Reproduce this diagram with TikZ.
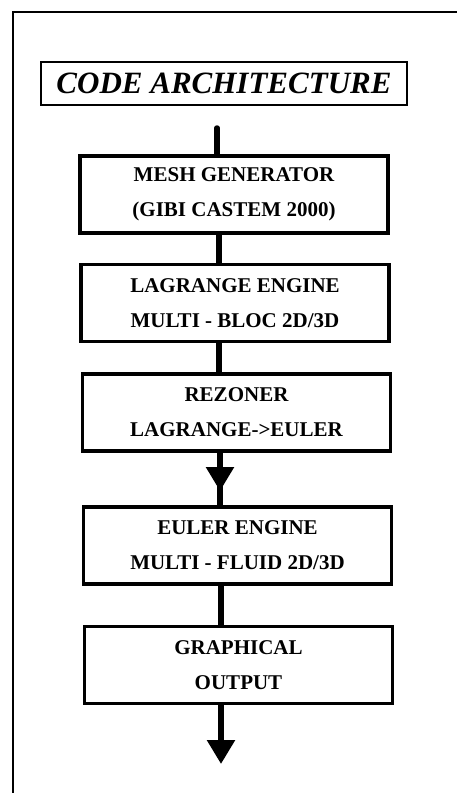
\documentclass[tikz,border=0pt]{standalone}
\usepackage{fontspec}
\setmainfont{Liberation Serif}
\usetikzlibrary{arrows.meta}
\begin{document}
\begin{tikzpicture}[x=1pt,y=-1pt,
  frame/.style={line width=2pt},
  titlebox/.style={draw,line width=2pt,minimum width=366pt,minimum height=43pt,inner sep=0pt,
    font=\bfseries\itshape\fontsize{31}{31}\selectfont},
  stepbox/.style={draw,line width=3.5pt,minimum width=308pt,minimum height=77pt,inner sep=0pt,
    align=center,font=\bfseries\fontsize{21}{35}\selectfont},
  conn/.style={line width=5.5pt},
  tip/.style={-{Triangle[width=27pt,length=24pt]}}]
\useasboundingbox (0,0) rectangle (457,793);
% outer frame (top and left edges)
\draw[frame] (457,12) -- (13,12) -- (13,793);
\node[titlebox] (title) at (224,83.5) {CODE ARCHITECTURE};
\coordinate (axis) at (219,0);
\coordinate (start) at (217,128);
\node[stepbox] (b1) at (234,194.5) {MESH GENERATOR\\(GIBI CASTEM 2000)};
\node[stepbox] (b2) at (235,303) {LAGRANGE ENGINE\\MULTI - BLOC 2D/3D};
\node[stepbox] (b3) at (236.5,412.5) {REZONER\\LAGRANGE->EULER};
\node[stepbox] (b4) at (237.5,545.5) {EULER ENGINE\\MULTI - FLUID 2D/3D};
\node[stepbox] (b5) at (238.5,665) {GRAPHICAL\\OUTPUT};
\coordinate (tip1) at (220,491);
\coordinate (tip2) at (221,764);
\draw[conn,line cap=round] (start) -- (b1.north -| start);
\draw[conn] (b1.south -| axis) -- (b2.north -| axis);
\draw[conn] (b2.south -| axis) -- (b3.north -| axis);
\draw[conn] (b3.south -| tip1) -- (b4.north -| tip1);
\draw[conn,tip] (b3.south -| tip1) -- (tip1);
\draw[conn] (b4.south -| tip2) -- (b5.north -| tip2);
\draw[conn,tip] (b5.south -| tip2) -- (tip2);
\end{tikzpicture}
\end{document}
